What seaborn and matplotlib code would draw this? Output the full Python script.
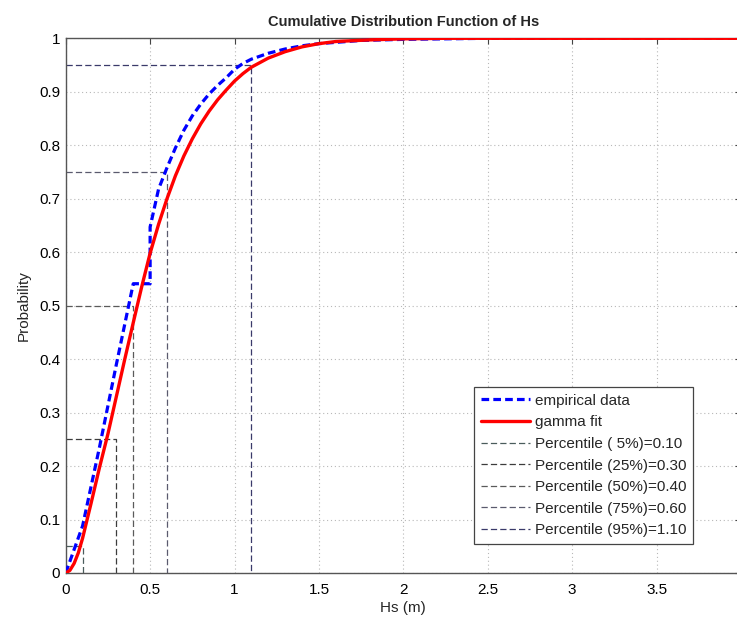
import numpy as np
import pandas as pd
import matplotlib
matplotlib.use("Agg")
import matplotlib.pyplot as plt
import seaborn as sns
from matplotlib.ticker import FuncFormatter

# ───────────── values ─────────────
emp_x = [0, 0.1, 0.2, 0.3, 0.4, 0.5, 0.5, 0.55, 0.6, 0.65, 0.7, 0.75, 0.8, 0.85,
         0.9, 0.95, 1.0, 1.05, 1.1, 1.2, 1.3, 1.4, 1.5, 1.75, 2.0, 2.5, 4.0]
emp_y = [0, 0.088, 0.235, 0.39, 0.541, 0.541, 0.647, 0.718, 0.758, 0.795, 0.828,
         0.855, 0.877, 0.896, 0.912, 0.926, 0.942, 0.953, 0.961, 0.972, 0.98,
         0.986, 0.99, 0.996, 0.998, 1.0, 1.0]

fit_x = [0, 0.025, 0.05, 0.075, 0.1, 0.15, 0.2, 0.25, 0.3, 0.35, 0.4, 0.45, 0.5,
         0.55, 0.6, 0.65, 0.7, 0.75, 0.8, 0.85, 0.9, 0.95, 1.0, 1.05, 1.1, 1.2,
         1.3, 1.4, 1.5, 1.6, 1.8, 2.0, 2.25, 2.5, 3.0, 4.0]
fit_y = [0, 0.005, 0.018, 0.038, 0.065, 0.13, 0.197, 0.26, 0.33, 0.4, 0.468,
         0.535, 0.598, 0.652, 0.7, 0.743, 0.78, 0.812, 0.84, 0.864, 0.885, 0.903,
         0.92, 0.934, 0.946, 0.963, 0.975, 0.984, 0.99, 0.994, 0.997, 0.999,
         1.0, 1.0, 1.0, 1.0]

pct_levels = [0.05, 0.25, 0.50, 0.75, 0.95]
pct_values = [0.10, 0.30, 0.40, 0.60, 1.10]
pct_colors = ["#4a5c5c", "#3c3c3c", "#5a5a5a", "#5a5a6e", "#3a3a6a"]

x_ticks = [0, 0.5, 1, 1.5, 2, 2.5, 3, 3.5]
y_ticks = [0, 0.1, 0.2, 0.3, 0.4, 0.5, 0.6, 0.7, 0.8, 0.9, 1.0]

# ───────────── style ─────────────
sns.set_style("white")
plt.rcParams["font.family"] = ["Liberation Sans", "DejaVu Sans"]

W, H = 737, 619
fig = plt.figure(figsize=(W / 100, H / 100), dpi=100)
left_px, right_px, top_px, bot_px = 65.7, 741.0, 38.3, 573.0
ax = fig.add_axes([left_px / W, (H - bot_px) / H,
                   (right_px - left_px) / W, (bot_px - top_px) / H])

emp = pd.DataFrame({"x": emp_x, "y": emp_y})
fit = pd.DataFrame({"x": fit_x, "y": fit_y})

# percentile guide lines (drawn first, under the curves)
pct_handles = []
for q, v, c in zip(pct_levels, pct_values, pct_colors):
    seg = pd.DataFrame({"x": [0, v, v], "y": [q, q, 0]})
    sns.lineplot(data=seg, x="x", y="y", ax=ax, sort=False, estimator=None,
                 color=c, lw=0.9, zorder=2)
    ax.lines[-1].set_dashes((5, 2.5))
    pct_handles.append(ax.lines[-1])

sns.lineplot(data=emp, x="x", y="y", ax=ax, sort=False, estimator=None,
             color="#0000ff", lw=2.3, zorder=3)
l_emp = ax.lines[-1]
l_emp.set_dashes((2.4, 1.3))

sns.lineplot(data=fit, x="x", y="y", ax=ax, sort=False, estimator=None,
             color="#ff0000", lw=2.4, zorder=4)
l_fit = ax.lines[-1]

ax.set_xlim(0, 4.0)
ax.set_ylim(0, 1)
ax.set_xticks(x_ticks)
ax.set_yticks(y_ticks)
ax.xaxis.set_major_formatter(FuncFormatter(lambda v, p: f"{v:g}"))
ax.yaxis.set_major_formatter(FuncFormatter(lambda v, p: f"{v:g}"))
ax.tick_params(direction="in", length=4, width=0.8, colors="#444444",
               labelcolor="black", labelsize=11, top=True, right=True)
ax.tick_params(axis="x", pad=7)
ax.tick_params(axis="y", pad=4)

ax.grid(True, linestyle=(0, (1, 2.5)), color="#b8b8b8", lw=0.8)
for side in ["left", "bottom", "top"]:
    ax.spines[side].set_color("#555555")
    ax.spines[side].set_linewidth(1.0)
ax.spines["right"].set_visible(False)

ax.set_xlabel("Hs (m)", fontsize=11, labelpad=3)
ax.set_ylabel("Probability", fontsize=11, labelpad=6)
ax.set_title("Cumulative Distribution Function of Hs", fontsize=10.5,
             fontweight="bold", pad=9)

labels = ["empirical data", "gamma fit"] + [
    f"Percentile ({int(round(q * 100)):2d}%)={v:.2f}"
    for q, v in zip(pct_levels, pct_values)]
leg = ax.legend([l_emp, l_fit] + pct_handles, labels, loc="upper left",
                bbox_to_anchor=(0.6046, 0.3484), borderaxespad=0,
                fontsize=11, handlelength=3.2, handletextpad=0.35,
                labelspacing=0.5, borderpad=0.45, fancybox=False,
                frameon=True, framealpha=1)
leg.get_frame().set_edgecolor("#444444")
leg.get_frame().set_linewidth(0.9)

fig.savefig("out.png", dpi=100)
